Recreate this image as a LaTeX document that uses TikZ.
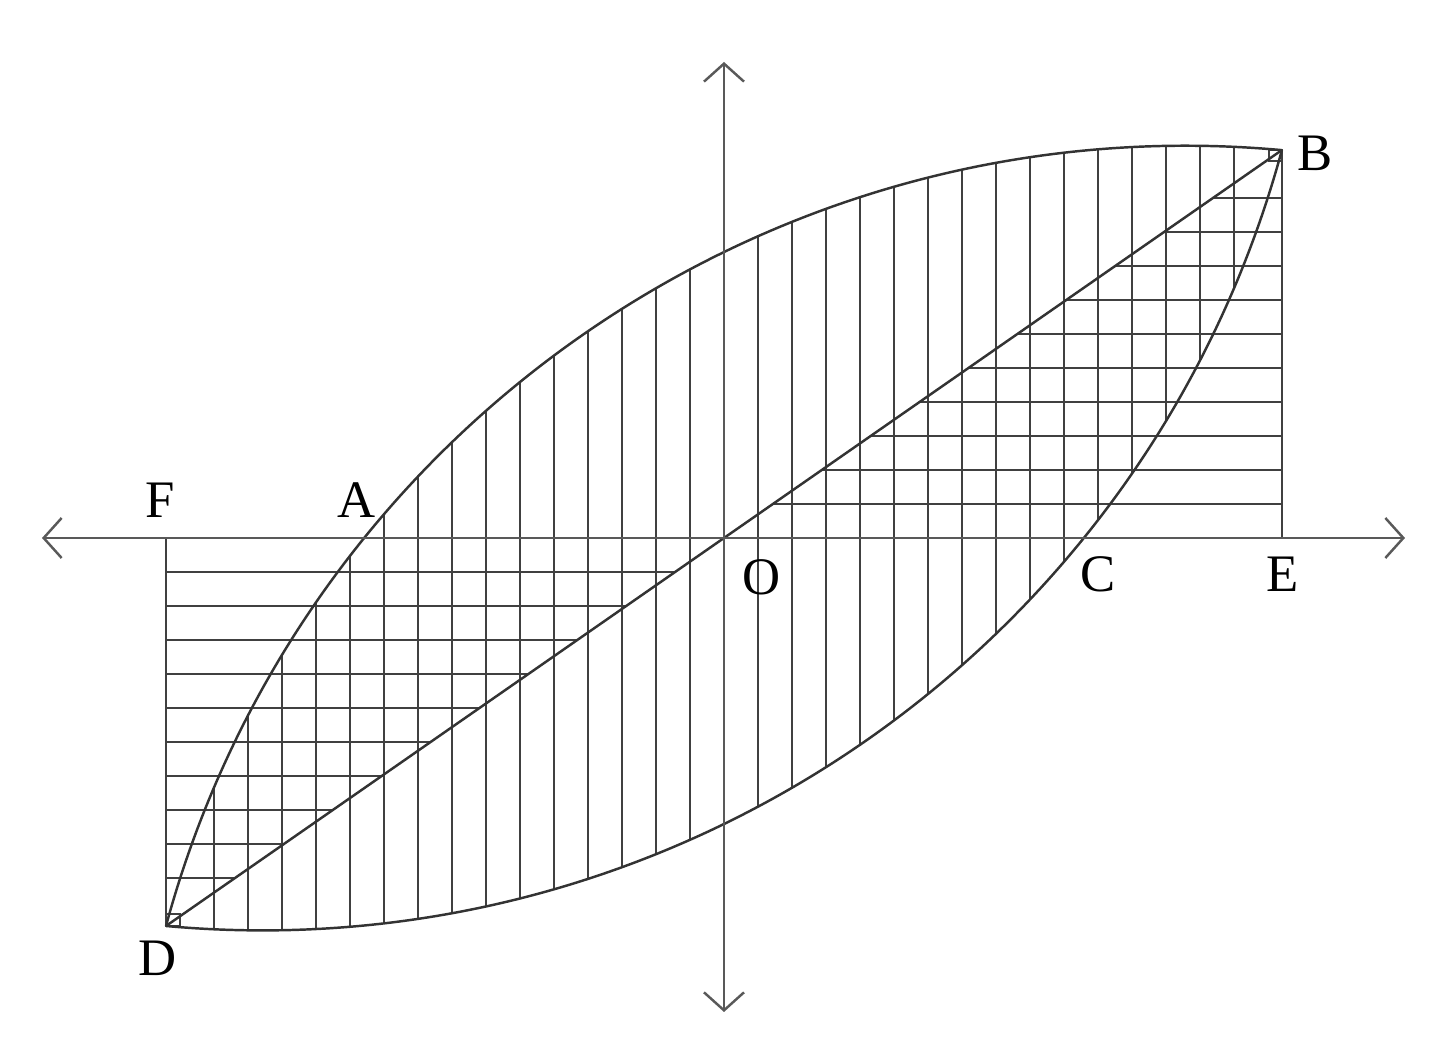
\documentclass[tikz,border=0pt]{standalone}
\usepackage{fontspec}
\setmainfont{Liberation Serif}
\usetikzlibrary{arrows.meta}
\begin{document}
\begin{tikzpicture}[x=1cm,y=1cm,
  hatch/.style={line width=0.55pt, draw=black!75},
  curve/.style={line width=0.7pt, draw=black!80},
  axis/.style={line width=0.7pt, draw=black!65,
    {Straight Barb[length=1.8mm,width=4mm]}-{Straight Barb[length=1.8mm,width=4mm]}},
  lab/.style={font=\fontsize{15}{18}\selectfont, inner sep=0pt, text=black}]
\useasboundingbox (-7.24,-5.25) rectangle (7.13,5.38);
\coordinate (O) at (0,0);
\coordinate (B) at (5.58,3.88);
\coordinate (D) at (-5.58,-3.88);
\coordinate (E) at (5.58,0);
\coordinate (F) at (-5.58,0);
\coordinate (XL) at (-6.82,0);
\coordinate (XR) at (6.81,0);
\coordinate (YT) at (0,4.76);
\coordinate (YB) at (0,-4.74);
% vertical hatching between the two arcs
\foreach \k in {1,...,15}{
  \foreach \s in {-1,1}{
    \pgfmathsetmacro{\u}{0.34*\k*\s}
    \pgfmathsetmacro{\vu}{-6.645+sqrt(111.683-(\u-4.62)*(\u-4.62))}
    \pgfmathsetmacro{\vl}{6.645-sqrt(111.683-(\u+4.62)*(\u+4.62))}
    \draw[hatch] (\u,\vl) -- (\u,\vu);
  }
}
% horizontal hatching
\foreach \k in {1,...,10}{
  \pgfmathsetmacro{\v}{0.34*\k}
  \pgfmathsetmacro{\ud}{\v*5.58/3.88}
  \pgfmathsetmacro{\mv}{-\v}
  \pgfmathsetmacro{\mud}{-\ud}
  \draw[hatch] (\ud,\v) -- (5.58,\v);
  \draw[hatch] (-5.58,\mv) -- (\mud,\mv);
}
\draw[hatch] (F) -- (D);
\draw[hatch] (E) -- (B);
\draw[hatch] (D) rectangle ++(0.14,0.12);
\draw[hatch] (B) rectangle ++(-0.13,-0.11);
% curves
\draw[curve] (D) arc[start angle=164.83, end angle=84.79, radius=10.568cm];
\draw[curve] (D) arc[start angle=264.79, end angle=344.83, radius=10.568cm];
\draw[curve] (D) -- (O) -- (B);
% axes
\draw[axis] (XL) -- (XR);
\draw[axis] (YB) -- (YT);
% labels
\node[lab] (lB) at (5.91,3.85) {B};
\node[lab] (lF) at (-5.64,0.38) {F};
\node[lab] (lA) at (-3.67,0.38) {A};
\node[lab] (lO) at (0.38,-0.39) {O};
\node[lab] (lC) at (3.74,-0.36) {C};
\node[lab] (lE) at (5.59,-0.36) {E};
\node[lab] (lD) at (-5.66,-4.20) {D};
\end{tikzpicture}
\end{document}
